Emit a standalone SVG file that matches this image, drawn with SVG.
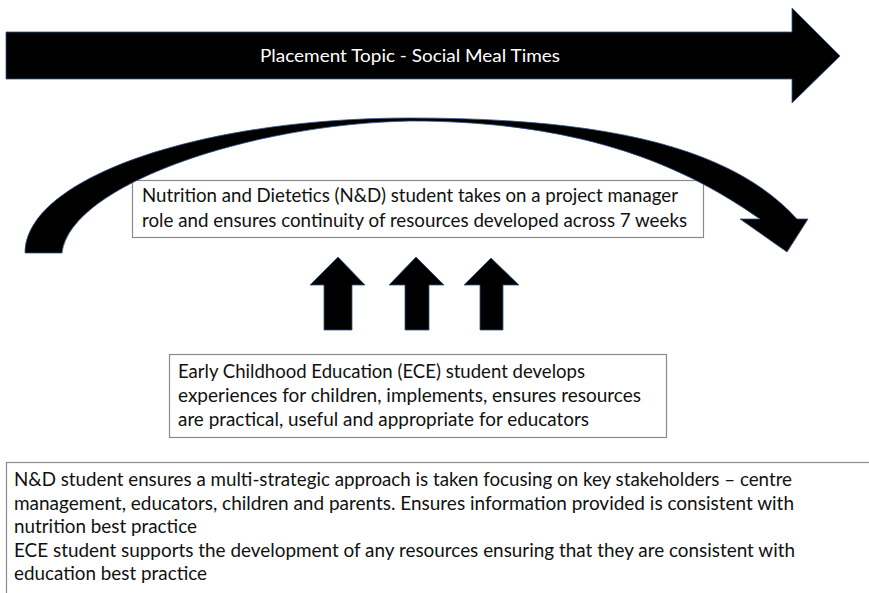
<svg xmlns="http://www.w3.org/2000/svg" width="869" height="593" viewBox="0 0 869 593">
  <defs>
    <style>
      .shape { fill: #000; stroke: #34568a; stroke-width: 0.8; stroke-linejoin: miter; }
      .box { fill: #fff; stroke: #8a8a8a; stroke-width: 1.2; }
      .txt { font-family: Lato, "Liberation Sans", sans-serif; fill: #111; font-size: 18.5px; }
      .title { font-family: Lato, "Liberation Sans", sans-serif; fill: #fff; font-size: 18px; }
    </style>
  </defs>
  <rect width="869" height="593" fill="#fff"/>

  <!-- Banner block arrow across the top -->
  <g id="banner">
    <path class="shape" d="M6,32 H792 V8 L840,56 L792,103 V79 H6 Z"/>
    <text class="title" x="260" y="62" textLength="300" lengthAdjust="spacingAndGlyphs">Placement Topic - Social Meal Times</text>
  </g>

  <!-- Project manager role -->
  <g id="nd-role">
    <rect class="box" x="132.5" y="180.5" width="571" height="57"/>
    <text class="txt" x="142" y="202" textLength="536" lengthAdjust="spacingAndGlyphs">Nutrition and Dietetics (N&amp;D) student takes on a project manager</text>
    <text class="txt" x="142" y="227" textLength="545" lengthAdjust="spacingAndGlyphs">role and ensures continuity of resources developed across 7 weeks</text>
  </g>

  <!-- ECE student role -->
  <g id="ece-role">
    <rect class="box" x="169.5" y="354.5" width="497" height="83"/>
    <text class="txt" x="178" y="378" textLength="407" lengthAdjust="spacingAndGlyphs">Early Childhood Education (ECE) student develops</text>
    <text class="txt" x="178" y="402" textLength="463" lengthAdjust="spacingAndGlyphs">experiences for children, implements, ensures resources</text>
    <text class="txt" x="178" y="426" textLength="411" lengthAdjust="spacingAndGlyphs">are practical, useful and appropriate for educators</text>
  </g>

  <!-- Shared approach panel, open to the right and bottom edges -->
  <g id="shared-approach">
    <rect class="box" x="6.5" y="462.5" width="900" height="200"/>
    <text class="txt" x="14" y="486" textLength="778" lengthAdjust="spacingAndGlyphs">N&amp;D student ensures a multi-strategic approach is taken focusing on key stakeholders – centre</text>
    <text class="txt" x="14" y="509.5" textLength="780" lengthAdjust="spacingAndGlyphs">management, educators, children and parents. Ensures information provided is consistent with</text>
    <text class="txt" x="14" y="533" textLength="183" lengthAdjust="spacingAndGlyphs">nutrition best practice</text>
    <text class="txt" x="14" y="556.5" textLength="781" lengthAdjust="spacingAndGlyphs">ECE student supports the development of any resources ensuring that they are consistent with</text>
    <text class="txt" x="14" y="580" textLength="193" lengthAdjust="spacingAndGlyphs">education best practice</text>
  </g>

  <!-- Connectors: curved arc over the manager box and three upward block arrows -->
  <g id="connectors">
    <path class="shape" d="M25,253 C25,179 198,118 410,118 C600,118 730,145 797,219 L808,219 L787,252 L740,219 L760,219 C690,170 590,121 410,121 C250,124 70,185 62,253 Z"/>
    <path class="shape" d="M338,257 L365,285 L352,285 L352,330 L324,330 L324,285 L310,285 Z"/>
    <path class="shape" d="M416,257 L444,285 L429,285 L429,330 L405,330 L405,285 L389,285 Z"/>
    <path class="shape" d="M491,258 L519,285 L503,285 L503,330 L480,330 L480,285 L464,285 Z"/>
  </g>
</svg>
